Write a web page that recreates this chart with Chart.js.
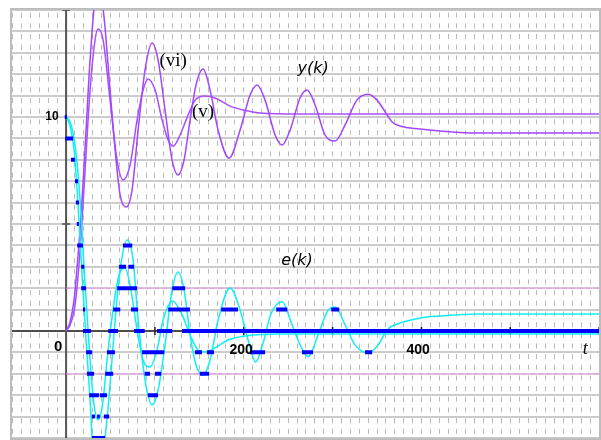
<!DOCTYPE html>
<html>
<head>
<meta charset="utf-8">
<script src="https://cdn.jsdelivr.net/npm/chart.js@4.4.1/dist/chart.umd.min.js"></script>
<style>
  html, body { margin: 0; padding: 0; background: #fff; }
  #wrap { width: 601px; height: 440px; }
</style>
</head>
<body>
<div id="wrap"><canvas id="chartRespuesta"></canvas></div>
<script>
// y(k), respuesta (vi)
const yViX = [0, 4.5, 9, 13.5, 18, 22.5, 27, 34.9, 41.7, 49.5, 55.2, 60.8, 67.5, 74.3, 81.1, 88.9, 96.8, 103.6, 111.4, 119.3, 126.1, 132.8, 139.6, 146.3, 154.2, 162.1, 171.1, 183.5, 195.9, 207.1, 215, 224, 235.3, 243.2, 252.2, 263.4, 271.3, 280.3, 291.5, 302.8, 314.1, 327.3, 340, 350.1, 361.4, 367, 376, 398.5, 421, 462.7, 601];
const yViY = [0, 0.42, 1.45, 3.55, 6.12, 9.39, 12.66, 16.0, 15.05, 11.26, 8.46, 6.36, 5.79, 6.59, 9.39, 12.2, 13.46, 12.66, 10.33, 7.99, 7.29, 7.99, 9.86, 11.5, 12.24, 11.26, 9.39, 8.08, 9.39, 11.03, 11.5, 10.79, 9.16, 8.69, 9.39, 10.89, 11.26, 10.56, 9.16, 8.88, 9.63, 10.79, 11.07, 10.79, 10.09, 9.77, 9.58, 9.44, 9.35, 9.25, 9.25];

// y(k), respuesta (v)
const yVX = [0, 4.5, 10.1, 15.8, 21.4, 27, 32.6, 36, 41.7, 49.5, 57.4, 64.2, 72, 79.9, 86.7, 92.3, 100.2, 108.1, 114.8, 120.5, 128.3, 137.3, 145.2, 156.5, 167.7, 184.6, 199.3, 218.4, 263.4, 601];
const yVY = [0, 0.28, 1.21, 3.79, 7.52, 11.26, 13.6, 14.11, 13.6, 10.79, 7.99, 7.06, 7.76, 9.86, 11.26, 11.78, 11.26, 9.86, 8.93, 8.64, 9.16, 10.09, 10.79, 10.98, 10.89, 10.51, 10.33, 10.19, 10.14, 10.14];

// e(k) para (vi)
const eViX = [0, 4.5, 9, 13.5, 18, 22.5, 27, 29.3, 36, 43.9, 49.5, 55.2, 60.8, 68.7, 75.4, 81.1, 88.9, 96.8, 103.6, 111.4, 119.3, 126.1, 132.8, 139.6, 146.3, 154.2, 162.1, 171.1, 184.6, 195.9, 204.9, 213.4, 221.2, 230.2, 243.2, 254.4, 263.4, 272.4, 283.7, 293.8, 302.8, 314.1, 325.3, 340, 351.3, 361.4, 376, 398.5, 421, 462.7, 601];
const eViY = [10, 9.58, 8.46, 5.89, 2.62, -0.42, -3.22, -4.95, -6.0, -4.95, -2.52, 0.51, 2.85, 4.25, 3.32, 0.51, -2.29, -3.46, -2.76, -0.65, 1.92, 2.76, 1.92, -0.19, -1.59, -2.06, -1.36, 0.51, 2.01, 0.98, -0.42, -1.45, -0.65, 0.75, 1.36, 0.28, -0.65, -1.21, -0.19, 0.89, 1.12, 0.28, -0.65, -1.03, -0.65, 0.05, 0.37, 0.61, 0.70, 0.79, 0.79];

// e(k) para (v)
const eVX = [0, 4.5, 10.1, 15.8, 21.4, 27, 31.5, 36, 40.5, 47.3, 55.2, 60.8, 66.4, 72, 79.9, 86.7, 94.6, 102.4, 109.2, 120, 130.6, 139.6, 148.6, 156.5, 167.7, 182.4, 201.5, 240.9, 601];
const eVY = [10, 9.77, 8.69, 6.12, 2.15, -1.36, -3.46, -4.16, -3.6, -0.89, 1.68, 2.76, 2.94, 2.15, 0.05, -1.36, -1.68, -0.89, 0.51, 1.4, 0.75, -0.19, -0.89, -0.98, -0.79, -0.42, -0.23, -0.14, -0.14];

// e(k) cuantizado: nivel, desde, hasta
const qLevel = [10, 9, 8, 7, 6, 5, 4, 4, 3, 3, 3, 2, 2, 2, 1, 1, 1, 1, 1, 1, 1, 0, 0, 0, 0, 0, -1, -1, -1, -1, -1, -1, -1, -1, -2, -2, -2, -2, -2, -3, -3, -3, -4, -4, -4, -5];
const qFrom = [-1.5, -1, 5.5, 10, 11, 12, 12.5, 64, 17, 59.5, 70, 17, 57.5, 119.5, 19, 53, 73, 115, 174.5, 236.5, 298.5, 19, 47.5, 76.5, 102.5, 130.5, 22.5, 46, 85.5, 145, 158.5, 207, 265.5, 336.5, 23.5, 44, 88.5, 100, 150.5, 26, 38, 92, 29, 35, 42.5, 29];
const qTo = [1, 8, 10, 13.5, 14.5, 14.5, 19, 74.5, 20.5, 67.5, 76.5, 22.5, 80, 134, 21.5, 61, 81, 139.5, 193.5, 249, 307.5, 28, 58.5, 88.5, 119.5, 601, 29.5, 55, 110.5, 153, 166.5, 224, 278, 344.5, 31.5, 53, 94.5, 107, 161, 37, 46, 103.5, 32.5, 38, 48.5, 44];

// lineas de referencia (rosa)
const refLevels = [2, -2];

// marcas de los ejes
const xTicks = [100, 200, 300, 400, 500, 600];
const yTicks = [5, 15];

// textos
const labelText = ['10', '0', '200', '400', 't', 'y(k)', 'e(k)', '(vi)', '(v)'];
const labelAt = [[-15.8, 10], [-9, -0.75], [197, -0.89], [396.3, -0.89], [584.3, -0.84], [278, 12.24], [260, 3.27], [120.5, 12.62], [154.2, 10.23]];
const labelFont = ['bold 12px "Liberation Sans"', 'bold 15px "Liberation Sans"', 'bold 14px "Liberation Sans"', 'bold 14px "Liberation Sans"',
  'italic 18px "Liberation Serif"', 'oblique 16px "DejaVu Sans"', 'oblique 16px "DejaVu Sans"', '19px "Liberation Serif"', '19px "Liberation Serif"'];

function toPoints(xs, ys) {
    return xs.map((x, i) => ({ x: x, y: ys[i] }));
}

function quantPoints() {
    let pts = [];
    qLevel.forEach((lv, i) => {
        pts.push({ x: qFrom[i], y: lv });
        pts.push({ x: qTo[i], y: lv });
        pts.push({ x: qTo[i], y: null });
    });
    return pts;
}

const ejesPlugin = {
    id: 'ejes',
    beforeDatasetsDraw(chart) {
        const ctx = chart.ctx, a = chart.chartArea;
        const sx = chart.scales.x, sy = chart.scales.y;
        const x0 = sx.getPixelForValue(0), y0 = sy.getPixelForValue(0);
        ctx.save();
        ctx.strokeStyle = '#222';
        ctx.lineWidth = 1.5;
        ctx.beginPath(); ctx.moveTo(a.left, y0); ctx.lineTo(a.right, y0); ctx.stroke();
        xTicks.forEach(v => {
            const px = sx.getPixelForValue(v);
            ctx.beginPath(); ctx.moveTo(px, y0 - 4); ctx.lineTo(px, y0 + 4); ctx.stroke();
        });
        ctx.strokeStyle = '#555';
        ctx.lineWidth = 2;
        ctx.beginPath(); ctx.moveTo(x0, a.top); ctx.lineTo(x0, a.bottom); ctx.stroke();
        ctx.lineWidth = 1.5;
        yTicks.forEach(v => {
            const py = sy.getPixelForValue(v);
            ctx.beginPath(); ctx.moveTo(x0 - 4, py); ctx.lineTo(x0 + 4, py); ctx.stroke();
        });
        ctx.restore();
    },
    afterDatasetsDraw(chart) {
        const ctx = chart.ctx, a = chart.chartArea;
        const sx = chart.scales.x, sy = chart.scales.y;
        ctx.save();
        ctx.strokeStyle = '#bdbdbd';
        ctx.lineWidth = 2;
        ctx.strokeRect(a.left, a.top, a.right - a.left, a.bottom - a.top);
        ctx.fillStyle = '#000';
        ctx.textAlign = 'center';
        ctx.textBaseline = 'middle';
        labelText.forEach((t, i) => {
            ctx.font = labelFont[i];
            ctx.fillText(t, sx.getPixelForValue(labelAt[i][0]), sy.getPixelForValue(labelAt[i][1]));
        });
        ctx.restore();
    }
};

function generateChart() {
    const base = { fill: false, pointRadius: 0, borderWidth: 1.5, cubicInterpolationMode: 'monotone' };
    let datasets = [];

    refLevels.forEach(lv => {
        datasets.push({ data: [{ x: 0, y: lv }, { x: 601, y: lv }], borderColor: '#ff88ff', borderWidth: 1, borderDash: [5, 3], pointRadius: 0, order: 6 });
    });
    datasets.push(Object.assign({ data: toPoints(yViX, yViY), borderColor: '#a445ff', order: 4 }, base));
    datasets.push(Object.assign({ data: toPoints(yVX, yVY), borderColor: '#a850ff', order: 4 }, base));
    datasets.push(Object.assign({ data: toPoints(eViX, eViY), borderColor: '#10eef5', order: 3 }, base));
    datasets.push(Object.assign({ data: toPoints(eVX, eVY), borderColor: '#10eef5', order: 3 }, base));
    datasets.push({ data: quantPoints(), borderColor: '#0000ff', borderWidth: 4, borderCapStyle: 'butt', pointRadius: 0, spanGaps: false, tension: 0, order: 1 });

    new Chart(document.getElementById('chartRespuesta').getContext('2d'), {
        type: 'line',
        data: { datasets: datasets },
        options: {
            responsive: true,
            maintainAspectRatio: false,
            devicePixelRatio: 1,
            animation: false,
            layout: { padding: { left: 11, top: 9, right: 1, bottom: 1 } },
            plugins: { legend: { display: false }, tooltip: { enabled: false } },
            scales: {
                x: {
                    type: 'linear', min: -62, max: 601,
                    ticks: { display: false, stepSize: 10, includeBounds: false },
                    grid: { color: '#bababa', lineWidth: 1, drawTicks: false },
                    border: { display: false, dash: [5, 5.67], dashOffset: 6.97 }
                },
                y: {
                    type: 'linear', min: -5.05, max: 15.05,
                    ticks: { display: false, stepSize: 1, includeBounds: false },
                    grid: { color: '#cccccc', lineWidth: 2, drawTicks: false },
                    border: { display: false }
                }
            }
        },
        plugins: [ejesPlugin]
    });
}

generateChart();
</script>
</body>
</html>
